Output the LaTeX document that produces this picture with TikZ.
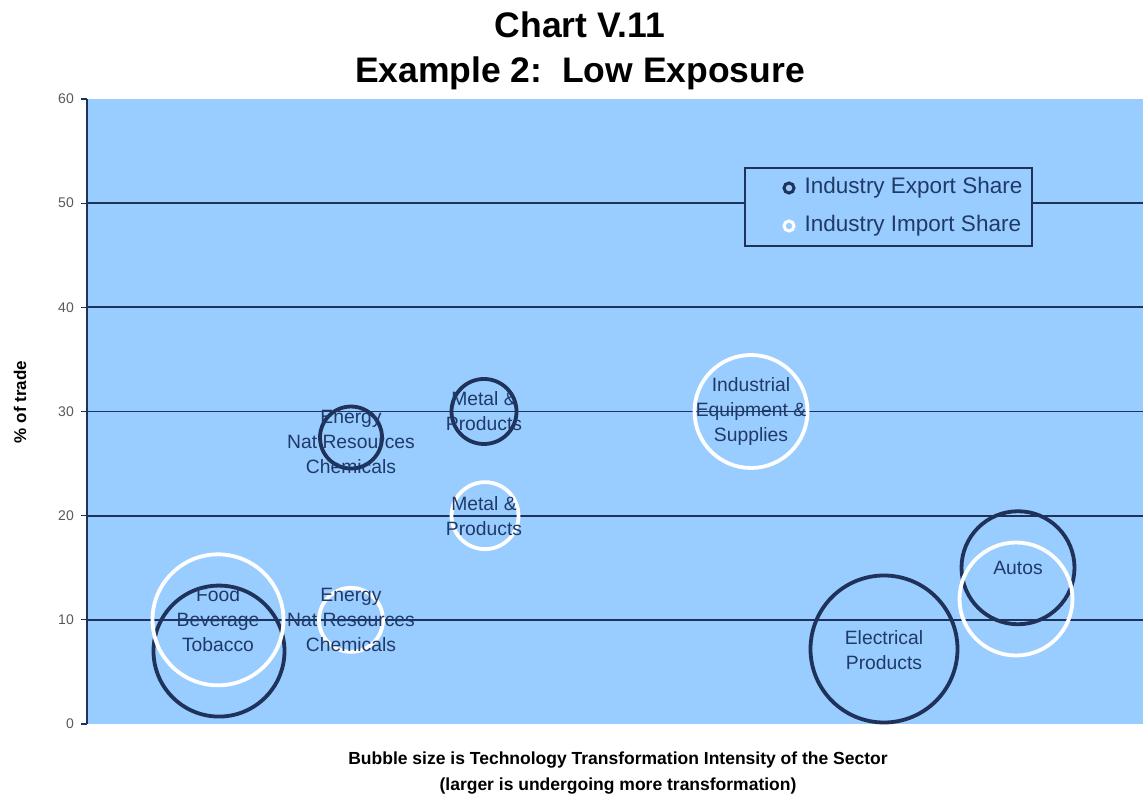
\documentclass[tikz,border=0pt]{standalone}
\usepackage{fontspec}
\setmainfont{Liberation Sans}
\usetikzlibrary{positioning}
\definecolor{plotblue}{RGB}{153,204,255}
\definecolor{navyline}{RGB}{30,50,90}
\definecolor{labeltext}{RGB}{32,58,104}

\begin{document}
\begin{tikzpicture}[x=1pt,y=1pt,
	exportbubble/.style={circle, draw=navyline, line width=3.8pt, inner sep=0pt},
	importbubble/.style={circle, draw=white, line width=3.8pt, inner sep=0pt},
	bubblelabel/.style={align=center, text=labeltext, inner sep=0pt, font=\fontsize{19.3}{25}\selectfont},
	ticklabel/.style={anchor=east, text=black!65, inner sep=0pt, font=\fontsize{14}{14}\selectfont},
	]
	\useasboundingbox (0,0) rectangle (1143,793);
	%Titles
	\node[anchor=base, font=\fontsize{35.5}{35.5}\selectfont\bfseries] (title) at (580,755) {Chart V.11};
	\node[anchor=base, font=\fontsize{35.5}{35.5}\selectfont\bfseries] (subtitle) at (580,710) {Example 2:\ \ Low Exposure};
	\node[anchor=base, align=center, font=\fontsize{17.5}{26}\selectfont\bfseries] (caption) at (618,3)
		{Bubble size is Technology Transformation Intensity of the Sector\\(larger is undergoing more transformation)};
	\node[rotate=90, font=\fontsize{17}{17}\selectfont\bfseries] (ytitle) at (20,391) {\% of trade};
	
	\begin{scope}[shift={(0,69)}, y=10.417pt]
	%Plot area
	\fill[plotblue] (87,0) rectangle (1143,60);
	\foreach \v in {10,20,...,50}
		\draw[navyline, line width=1.8pt] (87,\v) -- (1143,\v);
	\draw[navyline, line width=1.5pt] (87,0) -- (87,60);
	\foreach \v in {0,10,...,60}{
		\draw[navyline, line width=1.2pt] (81,\v) -- (87,\v);
		\node[ticklabel] (tick\v) at (74,\v) {\v};
	}
	
	%Bubbles
	\node[exportbubble, minimum size=131pt] (foodexp)   at (219,7)  {};
	\node[importbubble, minimum size=131pt] (foodimp)   at (218,10) {};
	\node[exportbubble, minimum size=62pt]  (energyexp) at (351,27.5) {};
	\node[importbubble, minimum size=64pt]  (energyimp) at (351,10) {};
	\node[exportbubble, minimum size=65pt]  (metalexp)  at (484,30) {};
	\node[importbubble, minimum size=67pt]  (metalimp)  at (485,20) {};
	\node[importbubble, minimum size=113pt] (indimp)    at (751,30) {};
	\node[exportbubble, minimum size=147pt] (elecexp)   at (884,7.2) {};
	\node[exportbubble, minimum size=113pt] (autoexp)   at (1018,15) {};
	\node[importbubble, minimum size=113pt] (autoimp)   at (1016,12) {};
	
	%Labels
	\node[bubblelabel] (foodlbl)     at (218,10)  {Food\\Beverage\\Tobacco};
	\node[bubblelabel] (energylbllo) at (351,10)  {Energy\\Nat Resources\\Chemicals};
	\node[bubblelabel] (energylblhi) at (351,27.1) {Energy\\Nat Resources\\Chemicals};
	\node[bubblelabel] (metallblhi)  at (484,30)  {Metal \&\\Products};
	\node[bubblelabel] (metallbllo)  at (484,20)  {Metal \&\\Products};
	\node[bubblelabel] (indlbl)      at (751,30)  {Industrial\\Equipment \&\\Supplies};
	\node[bubblelabel] (eleclbl)     at (884,7.1) {Electrical\\Products};
	\node[bubblelabel] (autolbl)     at (1018,15) {Autos};
	\end{scope}
	
	%Legend
	\node[draw=navyline, fill=plotblue, line width=1.2pt, minimum width=287pt, minimum height=78pt] (legendbox) at (888.5,586) {};
	\node[exportbubble, line width=3pt, minimum size=10pt] (expmark) at (789,605) {};
	\node[importbubble, line width=3pt, minimum size=10pt] (impmark) at (789,567) {};
	\node[right=9pt of expmark, text=labeltext, inner sep=0pt, font=\fontsize{22.5}{22.5}\selectfont] (explbl) {Industry Export Share};
	\node[right=9pt of impmark, text=labeltext, inner sep=0pt, font=\fontsize{22.5}{22.5}\selectfont] (implbl) {Industry Import Share};
\end{tikzpicture}
\end{document}
